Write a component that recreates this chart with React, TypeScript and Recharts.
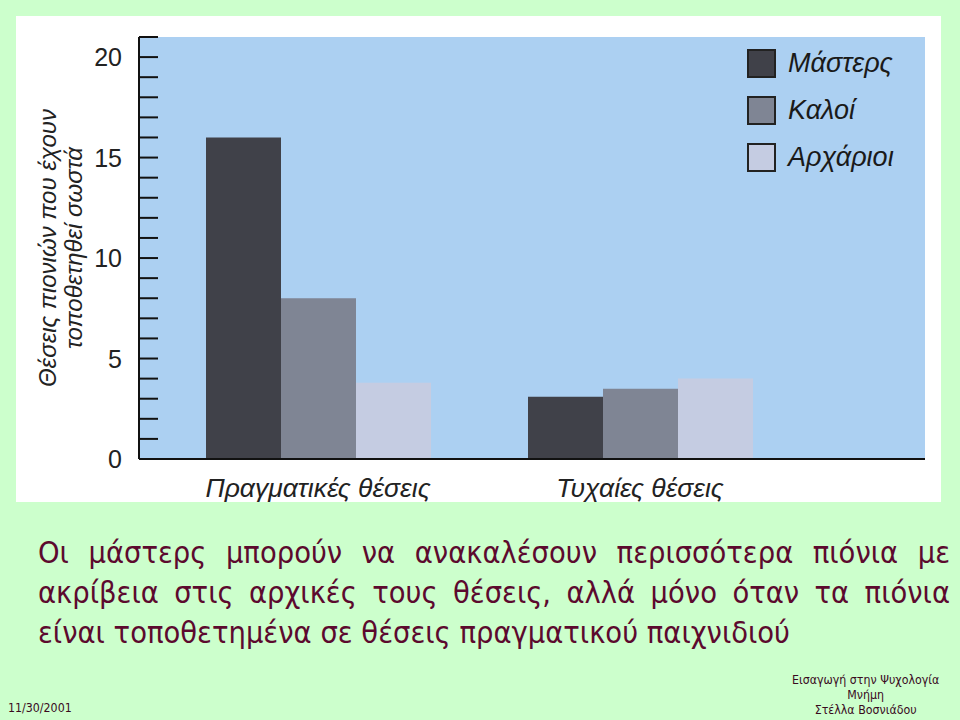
import React from 'react';
import { Bar, BarChart, CartesianGrid, Legend, XAxis, YAxis } from 'recharts';

const CATEGORIES = ['Πραγματικές θέσεις', 'Τυχαίες θέσεις'];
const MASTERS = [16, 3.1];
const GOOD = [8, 3.5];
const NOVICES = [3.8, 4];
const SERIES_NAMES = ['Μάστερς', 'Καλοί', 'Αρχάριοι'];
const Y_TICKS = [0, 1, 2, 3, 4, 5, 6, 7, 8, 9, 10, 11, 12, 13, 14, 15, 16, 17, 18, 19, 20, 21];
const Y_LABELED = [0, 5, 10, 15, 20];
const Y_TITLE = ['Θέσεις πιονιών που έχουν', 'τοποθετηθεί σωστά'];
const CAPTION = [
  'Οι μάστερς μπορούν να ανακαλέσουν περισσότερα πιόνια με',
  'ακρίβεια στις αρχικές τους θέσεις, αλλά μόνο όταν τα πιόνια',
  'είναι τοποθετημένα σε θέσεις πραγματικού παιχνιδιού',
];
const FOOTER_DATE = '11/30/2001';
const FOOTER_RIGHT = ['Εισαγωγή στην Ψυχολογία', 'Μνήμη', 'Στέλλα Βοσνιάδου'];

const DARK = '#404149';
const MID = '#7f8594';
const LIGHT = '#c5cce2';
const BLUE = '#acd0f2';
const PAGE = '#ccffcc';
const MAROON = '#5c0a2e';
const FONT = '"Liberation Sans", Arial, sans-serif';
const SLIDE_FONT = '"DejaVu Sans", Verdana, sans-serif';
const CAPTION_SCALE = 0.886;

const data = CATEGORIES.map((cat, i) => ({
  cat,
  masters: MASTERS[i],
  good: GOOD[i],
  novices: NOVICES[i],
}));

const TICK_MARGIN = 17;

function YTick({ x, y, payload }: { x?: number; y?: number; payload?: { value: number } }) {
  if (x == null || y == null || !payload) return null;
  const axisX = x + TICK_MARGIN;
  const v = payload.value;
  return (
    <g>
      {v !== 0 && <line x1={axisX} x2={axisX + 19} y1={y} y2={y} stroke="#111" strokeWidth={2} />}
      {Y_LABELED.includes(v) && (
        <text x={x} y={y} dy={9} textAnchor="end" fontSize={25} fontFamily={FONT} fill="#222">
          {v}
        </text>
      )}
    </g>
  );
}

function YTitle({ viewBox }: { viewBox?: { x: number; y: number; width: number; height: number } }) {
  if (!viewBox) return null;
  const cy = viewBox.y + viewBox.height / 2;
  return (
    <text
      transform={`translate(40, ${cy}) rotate(-90)`}
      textAnchor="middle"
      fontSize={24}
      fontStyle="italic"
      fontFamily={FONT}
      fill="#222"
    >
      <tspan x={0} y={0}>{Y_TITLE[0]}</tspan>
      <tspan x={0} dy={26}>{Y_TITLE[1]}</tspan>
    </text>
  );
}

function LegendBox({ payload }: { payload?: Array<{ value: string; color: string }> }) {
  if (!payload) return null;
  const items = [...payload].sort((a, b) => SERIES_NAMES.indexOf(a.value) - SERIES_NAMES.indexOf(b.value));
  return (
    <div>
      {items.map((e) => (
        <div key={e.value} style={{ display: 'flex', alignItems: 'center', height: 47 }}>
          <span
            style={{
              width: 25,
              height: 25,
              border: '2px solid #222',
              background: e.color,
              display: 'inline-block',
            }}
          />
          <span
            style={{ marginLeft: 12, fontSize: 27, fontStyle: 'italic', fontFamily: FONT, color: '#1a1a1a' }}
          >
            {e.value}
          </span>
        </div>
      ))}
    </div>
  );
}

export default function App() {
  return (
    <div
      style={{
        position: 'absolute',
        left: 0,
        top: 0,
        width: 960,
        height: 720,
        background: PAGE,
        overflow: 'hidden',
      }}
    >
      <div style={{ position: 'absolute', left: 16, top: 16, width: 925, height: 486, background: '#fff' }}>
        <BarChart
          width={925}
          height={486}
          data={data}
          margin={{ top: 21, right: 16, left: 0, bottom: 0 }}
          barGap={0}
          barSize={75}
        >
          <CartesianGrid horizontal={false} vertical={false} fill={BLUE} />
          <XAxis
            dataKey="cat"
            height={43}
            padding={{ left: 18, right: 124 }}
            interval={0}
            tickLine={false}
            tickSize={0}
            tickMargin={19}
            axisLine={{ stroke: '#111', strokeWidth: 2 }}
            tick={{ fontSize: 26.5, fontStyle: 'italic', fill: '#222', fontFamily: FONT }}
          />
          <YAxis
            width={123}
            domain={[0, 21]}
            ticks={Y_TICKS}
            interval={0}
            tickLine={false}
            tickSize={0}
            tickMargin={TICK_MARGIN}
            axisLine={{ stroke: '#111', strokeWidth: 2 }}
            tick={<YTick />}
            label={{ content: <YTitle /> }}
          />
          <Legend
            layout="vertical"
            align="center"
            verticalAlign="middle"
            content={<LegendBox />}
            wrapperStyle={{ left: 731, top: 24, width: 190, height: 141 }}
          />
          <Bar dataKey="masters" name={SERIES_NAMES[0]} fill={DARK} isAnimationActive={false} />
          <Bar dataKey="good" name={SERIES_NAMES[1]} fill={MID} isAnimationActive={false} />
          <Bar dataKey="novices" name={SERIES_NAMES[2]} fill={LIGHT} isAnimationActive={false} />
        </BarChart>
      </div>

      <div
        style={{
          position: 'absolute',
          left: 38,
          top: 532,
          width: 912 / CAPTION_SCALE,
          transform: `scaleX(${CAPTION_SCALE})`,
          transformOrigin: '0 0',
          fontFamily: SLIDE_FONT,
          fontSize: 31,
          lineHeight: '40px',
          color: MAROON,
        }}
      >
        {CAPTION.map((line, i) => {
          const just = i < CAPTION.length - 1 ? 'justify' : 'left';
          return (
            <div key={i} style={{ textAlign: just, textAlignLast: just }}>
              {line}
            </div>
          );
        })}
      </div>

      <div
        style={{
          position: 'absolute',
          left: 8,
          top: 700,
          fontFamily: SLIDE_FONT,
          fontSize: 13,
          transform: 'scaleX(0.85)',
          transformOrigin: '0 0',
          color: '#3a0a1e',
        }}
      >
        {FOOTER_DATE}
      </div>
      <div
        style={{
          position: 'absolute',
          left: 866 - 100 / 0.85,
          top: 672,
          width: 200 / 0.85,
          textAlign: 'center',
          fontFamily: SLIDE_FONT,
          fontSize: 13,
          lineHeight: '15px',
          transform: 'scaleX(0.85)',
          transformOrigin: '50% 0',
          color: '#3a0a1e',
        }}
      >
        {FOOTER_RIGHT.map((l) => (
          <div key={l}>{l}</div>
        ))}
      </div>
    </div>
  );
}
